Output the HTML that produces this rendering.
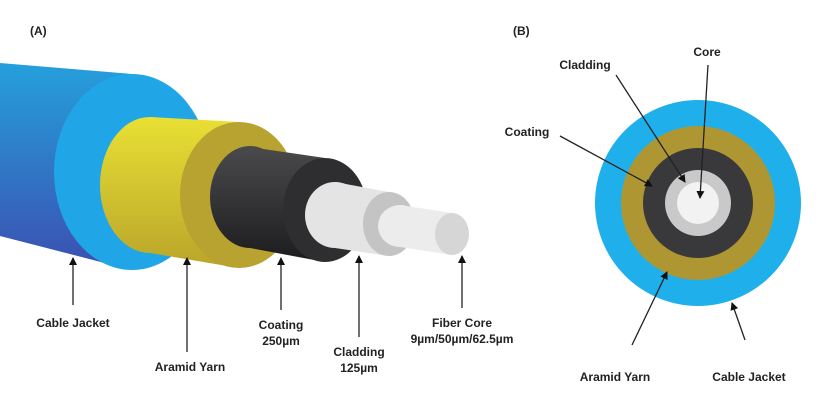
<!DOCTYPE html>
<html><head><meta charset="utf-8"><style>
html,body{margin:0;padding:0;background:#fff}
svg text{font-family:"Liberation Sans",Arial,sans-serif;font-weight:bold;font-size:12px;fill:#222}
</style></head><body>
<svg width="830" height="410" viewBox="0 0 830 410" xmlns="http://www.w3.org/2000/svg">
<defs>
<linearGradient id="jb" x1="0" y1="0" x2="0" y2="1"><stop offset="0" stop-color="#25a0dc"/><stop offset="1" stop-color="#3b4fb0"/></linearGradient>
<linearGradient id="yb" gradientUnits="userSpaceOnUse" x1="0" y1="117" x2="0" y2="268"><stop offset="0" stop-color="#e9e034"/><stop offset="1" stop-color="#b9a52a"/></linearGradient>
<linearGradient id="bb" gradientUnits="userSpaceOnUse" x1="0" y1="147" x2="0" y2="262"><stop offset="0" stop-color="#4a4a4c"/><stop offset="1" stop-color="#1c1c1e"/></linearGradient>
<marker id="ah" markerWidth="8" markerHeight="8" refX="7" refY="4" orient="auto" markerUnits="userSpaceOnUse"><path d="M0,0 L8,4 L0,8 Z" fill="#111"/></marker>
</defs>
<text x="30" y="35" font-size="14">(A)</text>
<text x="513" y="35" font-size="14">(B)</text>
<!-- jacket -->
<path d="M0,63 L132,74 L132,270 L0,236 Z" fill="url(#jb)"/>
<ellipse cx="132" cy="172" rx="78" ry="98" fill="#20a6e6"/>
<!-- yarn -->
<path d="M150,117 L239,122 L239,268 L150,253 Z" fill="url(#yb)"/>
<ellipse cx="150" cy="185" rx="50" ry="68" fill="url(#yb)"/>
<ellipse cx="239" cy="195" rx="59" ry="73" fill="#b8a331"/>
<!-- black -->
<path d="M250,147 L325,158 L325,262 L250,248 Z" fill="url(#bb)"/>
<ellipse cx="250" cy="197" rx="40" ry="51" fill="url(#bb)"/>
<ellipse cx="325" cy="210" rx="42" ry="52" fill="#2e2e30"/>
<!-- cladding -->
<path d="M335,182 L389,192 L389,256 L335,248 Z" fill="#e4e4e4"/>
<ellipse cx="335" cy="215" rx="30" ry="33" fill="#e4e4e4"/>
<ellipse cx="389" cy="224" rx="26" ry="32" fill="#c4c4c4"/>
<!-- core -->
<path d="M400,205 L452,213 L452,255 L400,247 Z" fill="#ececec"/>
<ellipse cx="400" cy="226" rx="22" ry="21" fill="#ececec"/>
<ellipse cx="452" cy="234" rx="17" ry="21" fill="#d6d6d6"/>
<!-- left arrows -->
<g stroke="#222" stroke-width="1.3" fill="none" marker-end="url(#ah)">
<line x1="73" y1="305" x2="73" y2="258"/>
<line x1="187" y1="352" x2="187" y2="258"/>
<line x1="281" y1="310" x2="281" y2="258"/>
<line x1="359" y1="337" x2="359" y2="256"/>
<line x1="462" y1="308" x2="462" y2="256"/>
</g>
<text x="73" y="327" text-anchor="middle">Cable Jacket</text>
<text x="190" y="371" text-anchor="middle">Aramid Yarn</text>
<text x="281" y="329" text-anchor="middle">Coating</text>
<text x="281" y="345" text-anchor="middle">250µm</text>
<text x="359" y="356" text-anchor="middle">Cladding</text>
<text x="359" y="372" text-anchor="middle">125µm</text>
<text x="462" y="327" text-anchor="middle">Fiber Core</text>
<text x="462" y="343" text-anchor="middle">9µm/50µm/62.5µm</text>
<!-- right -->
<circle cx="698" cy="203" r="103" fill="#1fb0ec"/>
<circle cx="698" cy="203" r="77" fill="#ae9733"/>
<circle cx="698" cy="203" r="55" fill="#39393b"/>
<circle cx="698" cy="203" r="33" fill="#c9c9c9"/>
<circle cx="698" cy="203" r="21" fill="#f2f2f2"/>
<g stroke="#222" stroke-width="1.3" fill="none" marker-end="url(#ah)">
<line x1="616" y1="75" x2="685" y2="182"/>
<line x1="708" y1="65" x2="700" y2="198"/>
<line x1="560" y1="136" x2="652" y2="186"/>
<line x1="632" y1="345" x2="667" y2="272"/>
<line x1="745" y1="340" x2="732" y2="303"/>
</g>
<text x="585" y="69" text-anchor="middle">Cladding</text>
<text x="707" y="56" text-anchor="middle">Core</text>
<text x="527" y="136" text-anchor="middle">Coating</text>
<text x="615" y="381" text-anchor="middle">Aramid Yarn</text>
<text x="749" y="381" text-anchor="middle">Cable Jacket</text>
</svg>
</body></html>
